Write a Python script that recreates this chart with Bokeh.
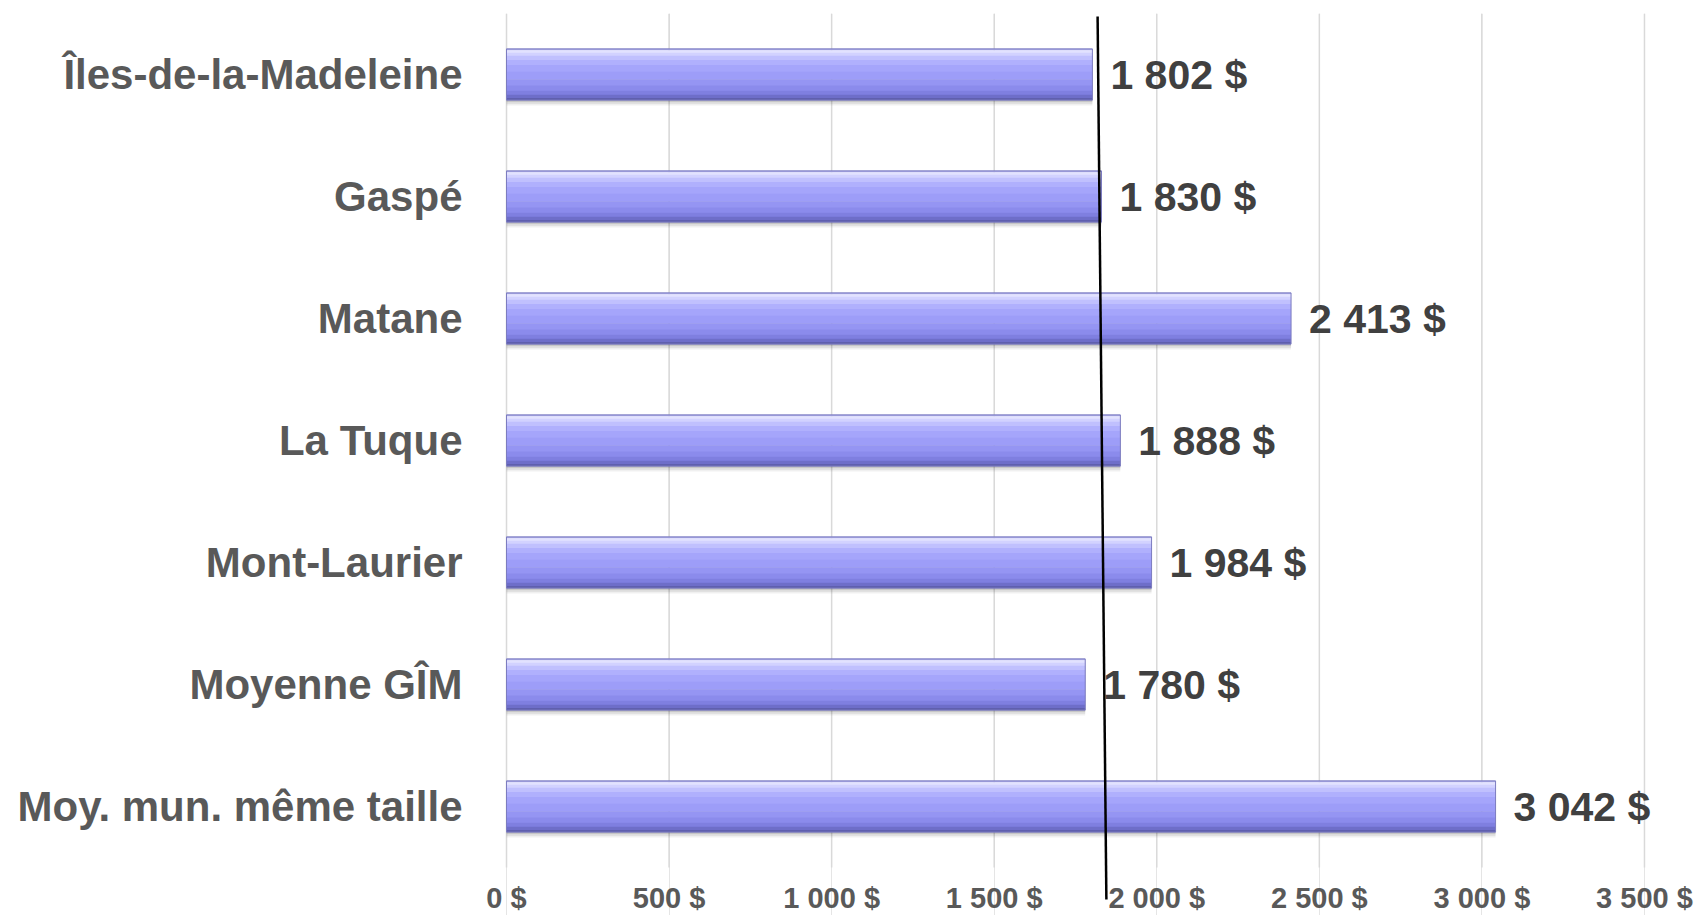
from bokeh.plotting import figure
from bokeh.models import Range1d, FixedTicker, ColumnDataSource
from bokeh.core.properties import value
from bokeh.embed import file_html
from bokeh.resources import INLINE

# ---- data ----
categories = ["Îles-de-la-Madeleine", "Gaspé", "Matane", "La Tuque",
              "Mont-Laurier", "Moyenne GÎM", "Moy. mun. même taille"]
values = [1802, 1830, 2413, 1888, 1984, 1780, 3042]
value_labels = ["1 802 $", "1 830 $", "2 413 $", "1 888 $", "1 984 $", "1 780 $", "3 042 $"]
tick_values = [0, 500, 1000, 1500, 2000, 2500, 3000, 3500]
tick_labels = ["0 $", "500 $", "1 000 $", "1 500 $", "2 000 $", "2 500 $", "3 000 $", "3 500 $"]
ref_line_top_x = 1818
ref_line_bottom_x = 1845

# ---- layout / style ----
N = len(categories)
ypos = [N - 0.5 - i for i in range(N)]          # category centres, top to bottom
BAR_H = 0.42
PX_PER_CAT = 122.0
BOTTOM_PAD = -48 / PX_PER_CAT                   # room for the tick labels inside frame
X_LEFT_PAD = -80                                 # room for the "0 $" label inside frame
SANS = "Liberation Sans"

p = figure(width=1696, height=915,
           y_range=Range1d(BOTTOM_PAD, N),
           x_range=Range1d(X_LEFT_PAD, 3660),
           x_axis_location=None,
           output_backend="svg", toolbar_location=None,
           min_border_left=480, min_border_right=0,
           min_border_top=13, min_border_bottom=0)
p.outline_line_color = None
p.background_fill_color = "white"
p.border_fill_color = "white"
p.ygrid.grid_line_color = None

ya = p.yaxis[0]
ya.ticker = FixedTicker(ticks=ypos)
ya.major_label_overrides = {y: c for y, c in zip(ypos, categories)}
ya.axis_line_color = None
ya.major_tick_line_color = None
ya.minor_tick_line_color = None
ya.major_label_standoff = 12
ya.major_label_text_font = SANS
ya.major_label_text_font_style = "bold"
ya.major_label_text_font_size = "42px"
ya.major_label_text_color = "#595959"

# vertical gridlines from the x ticks, spanning the category area
p.segment(x0=tick_values, x1=tick_values, y0=[0] * len(tick_values), y1=[N] * len(tick_values),
          line_color="#D9D9D9", line_width=1.5)

src = ColumnDataSource(dict(y=ypos, val=values, lab=value_labels,
                            zero=[0] * N))

# soft shadow under bars
for off, a in [(0.045, 0.06), (0.03, 0.08), (0.015, 0.10)]:
    sh = ColumnDataSource(dict(y=[v - off for v in ypos], val=values, zero=[0] * N))
    p.hbar(y="y", right="val", left="zero", height=BAR_H, source=sh,
           fill_color="black", fill_alpha=a, line_color=None)

# vertical gradient bands (style), top -> bottom
bands = [(0.00, 0.03, "#A9A9E6"), (0.03, 0.08, "#E2E2FF"), (0.08, 0.14, "#D2D2FF"),
         (0.14, 0.22, "#C0C0FE"), (0.22, 0.32, "#B0B0FD"), (0.32, 0.45, "#A5A5FB"),
         (0.45, 0.60, "#9D9DF8"), (0.60, 0.72, "#9595F3"), (0.72, 0.82, "#8B8BEC"),
         (0.82, 0.90, "#7F7FE0"), (0.90, 0.96, "#6E6EC9"), (0.96, 1.00, "#5F5FAE")]
for f0, f1, col in bands:
    off = BAR_H / 2 - (f0 + f1) / 2 * BAR_H
    bs = ColumnDataSource(dict(y=[v + off for v in ypos], val=values, zero=[0] * N))
    p.hbar(y="y", right="val", left="zero", height=(f1 - f0) * BAR_H + 0.003, source=bs,
           fill_color=col, line_color=None)
p.hbar(y="y", right="val", left="zero", height=BAR_H, source=src,
       fill_color=None, line_color="#7C7CC0", line_width=1)

# value labels
p.text(x="val", y="y", text="lab", source=src, x_offset=18,
       text_baseline="middle", text_align="left",
       text_font=value(SANS), text_font_style="bold",
       text_font_size="41px", text_color="#404040")

# x tick labels
p.text(x=tick_values, y=[-14 / PX_PER_CAT] * len(tick_values), text=tick_labels,
       text_align="center", text_baseline="top",
       text_font=value(SANS), text_font_style="bold",
       text_font_size="29px", text_color="#595959")

# hand-drawn reference line
p.segment(x0=[ref_line_top_x], y0=[N - 3 / PX_PER_CAT],
          x1=[ref_line_bottom_x], y1=[-32 / PX_PER_CAT],
          line_color="black", line_width=2.5)

open("out.html", "w").write(file_html(p, INLINE))
